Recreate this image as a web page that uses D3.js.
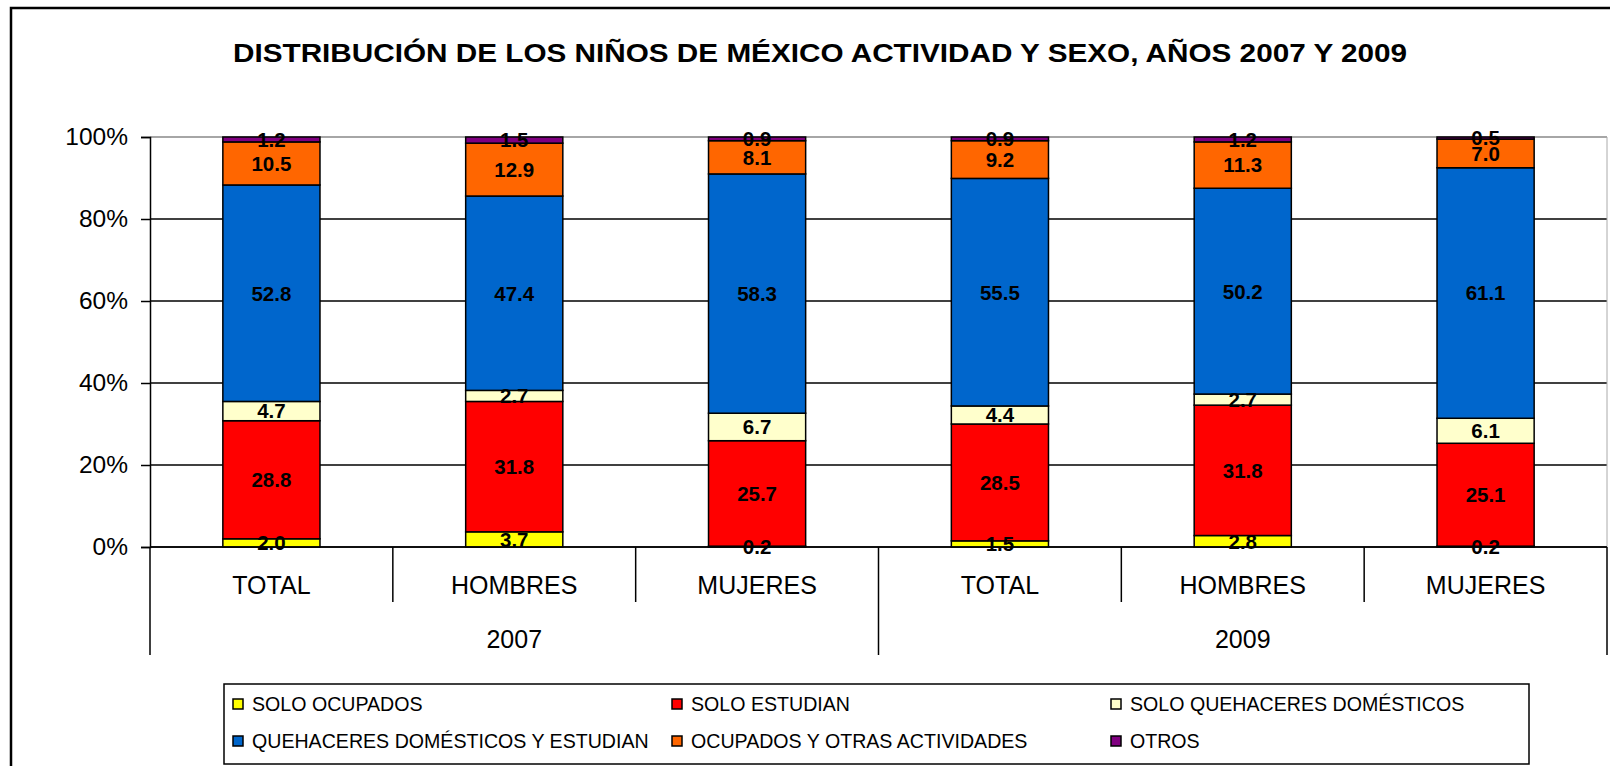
<!DOCTYPE html>
<html>
<head>
<meta charset="utf-8">
<script src="https://cdn.jsdelivr.net/npm/d3@7"></script>
<style>
  body { margin: 0; background: #fff; }
  text { font-family: "Liberation Sans", Arial, sans-serif; }
</style>
</head>
<body>
<div class="chart"></div>
<script>
var svgWidth = 1610;
var svgHeight = 766;

// chart data
var years = ["2007", "2009"];
var groups = ["TOTAL", "HOMBRES", "MUJERES"];
var seriesNames = ["SOLO OCUPADOS", "SOLO ESTUDIAN", "SOLO QUEHACERES DOMÉSTICOS",
  "QUEHACERES DOMÉSTICOS Y ESTUDIAN", "OCUPADOS Y OTRAS ACTIVIDADES", "OTROS"];
var seriesColors = ["#FFFF00", "#FF0000", "#FFFFCC", "#0066CC", "#FF6600", "#800080"];

// one array per series, order: 2007 TOTAL, HOMBRES, MUJERES, 2009 TOTAL, HOMBRES, MUJERES
var soloOcupados = [2.0, 3.7, 0.2, 1.5, 2.8, 0.2];
var soloEstudian = [28.8, 31.8, 25.7, 28.5, 31.8, 25.1];
var soloQuehaceres = [4.7, 2.7, 6.7, 4.4, 2.7, 6.1];
var quehaceresEstudian = [52.8, 47.4, 58.3, 55.5, 50.2, 61.1];
var ocupadosOtras = [10.5, 12.9, 8.1, 9.2, 11.3, 7.0];
var otros = [1.2, 1.5, 0.9, 0.9, 1.2, 0.5];

var yTicks = [0, 0.2, 0.4, 0.6, 0.8, 1];

var plot = { left: 150, right: 1607, top: 137, bottom: 547 };

var svg = d3.select(".chart")
  .append("svg")
  .attr("width", svgWidth)
  .attr("height", svgHeight);

// outer frame
svg.append("rect")
  .attr("x", 11)
  .attr("y", 8)
  .attr("width", 1700)
  .attr("height", 900)
  .attr("fill", "none")
  .attr("stroke", "#000")
  .attr("stroke-width", 2.5);

// title
svg.append("text")
  .attr("x", 233)
  .attr("y", 62)
  .attr("textLength", 1174)
  .attr("lengthAdjust", "spacingAndGlyphs")
  .attr("font-size", 26)
  .attr("font-weight", "bold")
  .text("DISTRIBUCIÓN DE LOS NIÑOS DE MÉXICO ACTIVIDAD Y SEXO, AÑOS 2007 Y 2009");

// build rows
var keys = ["s0", "s1", "s2", "s3", "s4", "s5"];
var seriesArrays = [soloOcupados, soloEstudian, soloQuehaceres, quehaceresEstudian, ocupadosOtras, otros];
var rows = [];
years.forEach(function (yr, yi) {
  groups.forEach(function (g, gi) {
    var idx = yi * groups.length + gi;
    var row = { id: yr + "-" + g, year: yr, group: g };
    seriesArrays.forEach(function (arr, si) {
      row[keys[si]] = arr[idx];
    });
    rows.push(row);
  });
});

var stacked = d3.stack().keys(keys)
  .offset(d3.stackOffsetExpand)(rows);

var xScale = d3.scaleBand()
  .domain(rows.map(d => d.id))
  .range([plot.left, plot.right])
  .paddingInner(0.6)
  .paddingOuter(0.3);

var yScale = d3.scaleLinear()
  .domain([0, 1])
  .range([plot.bottom, plot.top]);

var step = xScale.step();
var firstX = xScale(rows[0].id) - xScale.paddingOuter() * step;

// gridlines
svg.append("g")
  .selectAll("line")
  .data(yTicks)
  .enter()
  .append("line")
  .attr("x1", plot.left)
  .attr("x2", plot.right)
  .attr("y1", d => yScale(d))
  .attr("y2", d => yScale(d))
  .attr("stroke", d => d == 1 ? "#888" : "#000")
  .attr("stroke-width", 1.5);

// right border of plot area
svg.append("line")
  .attr("x1", plot.right)
  .attr("x2", plot.right)
  .attr("y1", plot.top)
  .attr("y2", plot.bottom)
  .attr("stroke", "#aaa")
  .attr("stroke-width", 1);

// y axis
var leftAxis = d3.axisLeft(yScale)
  .tickValues(yTicks)
  .tickFormat(d3.format(".0%"))
  .tickSize(9)
  .tickPadding(13);

var yAxis = svg.append("g")
  .attr("transform", `translate(${plot.left}, 0)`)
  .call(leftAxis);
yAxis.select(".domain").attr("stroke", "#000").attr("stroke-width", 1.5);
yAxis.selectAll(".tick line").attr("stroke", "#000").attr("stroke-width", 1.5);
yAxis.selectAll(".tick text")
  .attr("font-size", 24.5)
  .attr("font-family", "Liberation Sans, Arial, sans-serif")
  .attr("fill", "#000");

// bars
var layers = svg.append("g")
  .selectAll("g")
  .data(stacked)
  .enter()
  .append("g")
  .attr("fill", (d, i) => seriesColors[i]);

layers.selectAll("rect")
  .data(d => d)
  .enter()
  .append("rect")
  .attr("x", d => xScale(d.data.id))
  .attr("width", xScale.bandwidth())
  .attr("y", d => yScale(d[1]))
  .attr("height", d => yScale(d[0]) - yScale(d[1]))
  .attr("stroke", "#000")
  .attr("stroke-width", 1.5);

// value labels
stacked.forEach(function (layer, si) {
  svg.append("g")
    .selectAll("text")
    .data(layer)
    .enter()
    .append("text")
    .attr("x", d => xScale(d.data.id) + xScale.bandwidth() / 2)
    .attr("y", d => yScale((d[0] + d[1]) / 2))
    .attr("dy", "0.36em")
    .attr("text-anchor", "middle")
    .attr("font-size", 20.5)
    .attr("font-weight", "bold")
    .text(d => d.data[keys[si]].toFixed(1));
});

// x axis line
svg.append("line")
  .attr("x1", plot.left)
  .attr("x2", plot.right)
  .attr("y1", plot.bottom)
  .attr("y2", plot.bottom)
  .attr("stroke", "#000")
  .attr("stroke-width", 1.5);

// category separators
var sepData = d3.range(rows.length + 1);
svg.append("g")
  .selectAll("line")
  .data(sepData)
  .enter()
  .append("line")
  .attr("x1", i => firstX + i * step)
  .attr("x2", i => firstX + i * step)
  .attr("y1", plot.bottom)
  .attr("y2", i => i % groups.length == 0 ? 655 : 602)
  .attr("stroke", "#000")
  .attr("stroke-width", 1.5);

// category labels
svg.append("g")
  .selectAll("text")
  .data(rows)
  .enter()
  .append("text")
  .attr("x", d => xScale(d.id) + xScale.bandwidth() / 2)
  .attr("y", 594)
  .attr("text-anchor", "middle")
  .attr("font-size", 25)
  .text(d => d.group);

// year labels
svg.append("g")
  .selectAll("text")
  .data(years)
  .enter()
  .append("text")
  .attr("x", (d, i) => firstX + (i * groups.length + groups.length / 2) * step)
  .attr("y", 648)
  .attr("text-anchor", "middle")
  .attr("font-size", 25)
  .text(d => d);

// legend
var legend = svg.append("g");
legend.append("rect")
  .attr("x", 224)
  .attr("y", 684)
  .attr("width", 1305)
  .attr("height", 80)
  .attr("fill", "#fff")
  .attr("stroke", "#000")
  .attr("stroke-width", 1.5);

var legendCols = [233, 672, 1111];
var legendRows = [704, 741];

var items = legend.selectAll("g.item")
  .data(seriesNames)
  .enter()
  .append("g")
  .attr("class", "item")
  .attr("transform", (d, i) => `translate(${legendCols[i % 3]}, ${legendRows[Math.floor(i / 3)]})`);

items.append("rect")
  .attr("x", 0)
  .attr("y", -5)
  .attr("width", 10)
  .attr("height", 10)
  .attr("fill", (d, i) => seriesColors[i])
  .attr("stroke", "#000")
  .attr("stroke-width", 1.5);

items.append("text")
  .attr("x", 19)
  .attr("y", 0)
  .attr("dy", "0.36em")
  .attr("font-size", 19.6)
  .text(d => d);
</script>
</body>
</html>
